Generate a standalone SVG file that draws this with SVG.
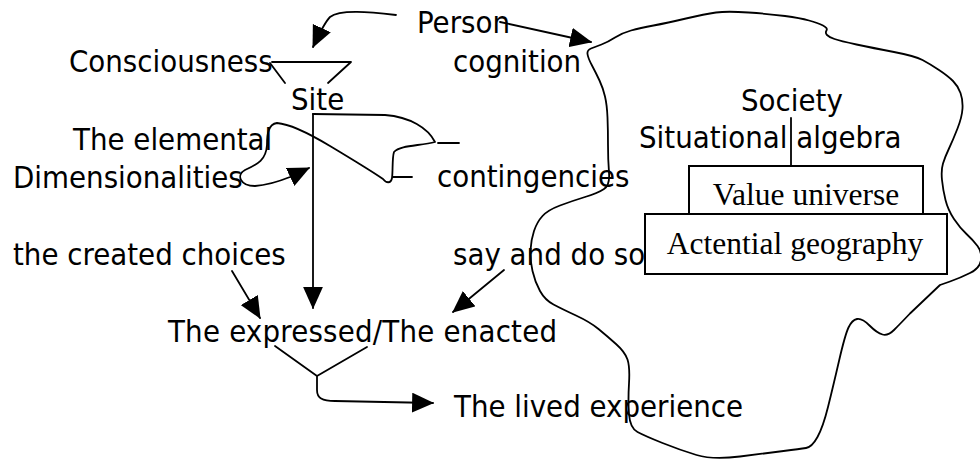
<svg xmlns="http://www.w3.org/2000/svg" width="980" height="462" viewBox="0 0 980 462">
<style>
.t{font-family:"DejaVu Sans Condensed","DejaVu Sans",sans-serif;font-stretch:condensed;font-size:30.8px;fill:#000}
.s{font-family:"Liberation Serif","Times New Roman",serif;font-size:31.5px;fill:#000}
.ln{fill:none;stroke:#000;stroke-width:1.8;stroke-linecap:round;stroke-linejoin:round}
.bx{fill:#fff;stroke:#000;stroke-width:2}
</style>
<defs>
<marker id="ah" markerUnits="userSpaceOnUse" markerWidth="22" markerHeight="20" viewBox="0 0 20 18" refX="19" refY="9" orient="auto">
<path d="M0,0 L20,9 L0,18 z" fill="#000"/>
</marker>
</defs>
<rect width="980" height="462" fill="#fff"/>
<g id="blob">
<path class="ln" d="M609 172.5 Q610 185 604 189 Q598 193 585 197 Q572 201 560 205.5 Q548 210 542.5 216 Q537 222 534 231 Q531 240 530.5 250 Q530 260 532.5 271 Q535 282 540 291 Q545 300 553.5 304.5 Q562 309 576 315.5 Q590 322 598.5 329 Q607 336 616 344 Q625 352 627.5 359.5 Q630 367 629 383.5 Q628 400 629 414 Q630 428 637.5 432 Q645 436 662.5 443 Q680 450 696.5 455 Q713 460 740 456.5 Q767 453 783.5 451 Q800 449 806 448 Q812 447 817.5 437 Q823 427 828 407 Q833 387 839 361 Q845 335 848.5 327.5 Q852 320 857 319 Q862 318 869.5 325.5 Q877 333 882.5 334.5 Q888 336 894 330 Q900 324 910 313.5 L940 285 L950 281.5 Q960 278 970 273 Q980 268 981 260 Q982 252 977.5 246 Q973 240 966.5 234 Q960 228 954 219 Q948 210 945.5 200 Q943 190 942 180 Q941 170 943 163.5 Q945 157 949 148.5 Q953 140 957.5 128.5 Q962 117 962.5 108.5 Q963 100 960.5 93 Q958 86 953 81 Q948 76 939 70 Q930 64 922.5 60 Q915 56 894 52 Q873 48 856.5 44.5 Q840 41 834.5 39 Q829 37 827 35 Q825 33 826.5 30.5 Q828 28 823 25.5 Q818 23 809 20.5 Q800 18 785 16 Q770 14 748.5 12.5 Q727 11 716 12.5 Q705 14 686 18.5 Q667 23 653.5 25.5 Q640 28 631 30.5 Q622 33 615 37.5 Q608 42 601.5 44.5 Q595 47 591 48.5 Q587 50 587.5 54 Q588 58 592 65.5 Q596 73 599.5 80.5 Q603 88 605 96.5 Q607 105 607.5 117.5 Q608 130 608 145 Q608 160 609 172.5 Z"/>
</g>
<g id="texts">
<g id="person"><text class="t" x="417" y="33">Person</text></g>
<g id="consciousness"><text class="t" x="69" y="72">Consciousness</text></g>
<g id="cognition"><text class="t" x="453" y="72">cognition</text></g>
<g id="site"><text class="t" x="291" y="110">Site</text></g>
<g id="society"><text class="t" x="741" y="111">Society</text></g>
<g id="elemental"><text class="t" x="73" y="150">The elemental</text></g>
<g id="situational"><text class="t" x="639" y="148">Situational algebra</text></g>
<g id="dimensionalities"><text class="t" x="13" y="188">Dimensionalities</text></g>
<g id="contingencies"><text class="t" x="437" y="187">contingencies</text></g>
<g id="choices"><text class="t" x="13" y="265">the created choices</text></g>
<g id="saydo"><text class="t" x="453" y="265">say and do so</text></g>
<g id="expressed"><text class="t" x="168" y="342" textLength="389">The expressed/The enacted</text></g>
<g id="lived"><text class="t" x="454" y="417">The lived experience</text></g>
</g>
<g id="connectors">
<path class="ln" d="M396 15 C370 12 340 9 330 17 C325 22 320 32 313 47" marker-end="url(#ah)"/>
<path class="ln" d="M500 22 L591 42" marker-end="url(#ah)"/>
<path class="ln" d="M272 62 L351 62 L328 83 M270 63 L285 83"/>
<path class="ln" d="M313 114 L313 308" marker-end="url(#ah)"/>
<path class="ln" d="M313 114 L385 115 C410 117 428 128 435 142 C420 146 400 145 394 152 C392 158 393 172 392 178 C391 184 386 183 383 179 C370 170 350 158 330 146 C310 134 290 124 277 123 C268 124 267 135 267 145 C266 160 258 164 245 170 C236 175 240 186 255 186 C270 185 285 179 290 177 L309 168" marker-end="url(#ah)"/>
<path class="ln" d="M438 143 L459 143 M393 177 L412 177"/>
<path class="ln" d="M232 271 L260 318" marker-end="url(#ah)"/>
<path class="ln" d="M504 270 L453 312" marker-end="url(#ah)"/>
<path class="ln" d="M275 346 L317 376 L367 347 M317 376 L317 390 C317 398 322 401 335 401 L433 403" marker-end="url(#ah)"/>
<path class="ln" d="M791 118 L791 166"/>
</g>
<g id="value-universe">
<rect class="bx" x="689" y="166" width="234" height="60"/>
<text class="s" x="806" y="205" text-anchor="middle">Value universe</text>
</g>
<g id="actential-geography">
<rect class="bx" x="645" y="214" width="302" height="60"/>
<text class="s" x="795" y="254" text-anchor="middle">Actential geography</text>
</g>
</svg>
